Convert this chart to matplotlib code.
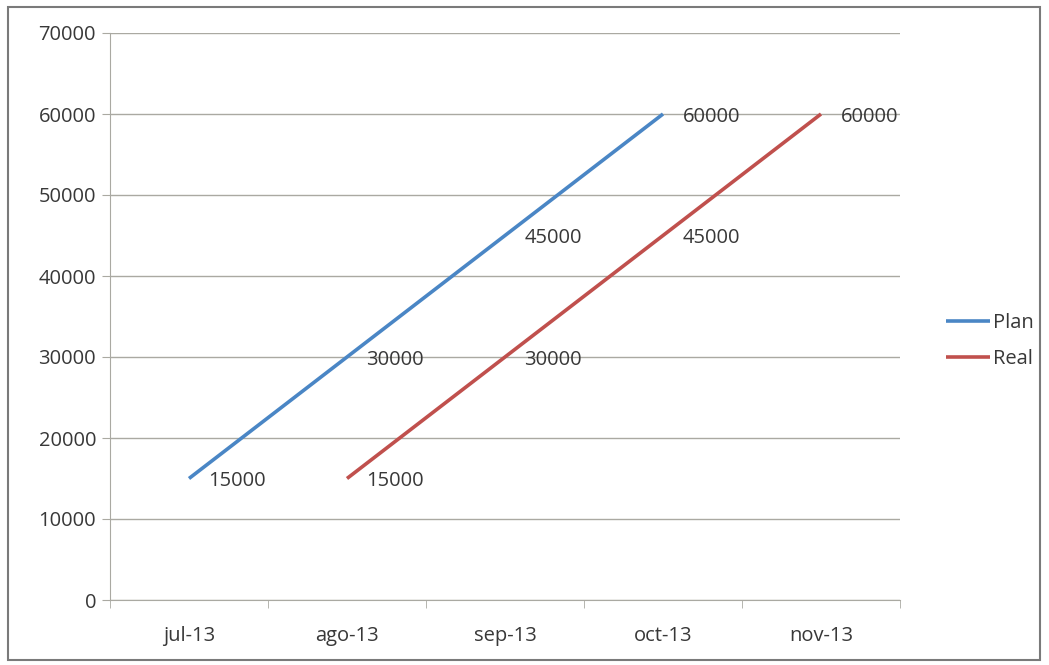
import matplotlib.pyplot as plt
from matplotlib.patches import Rectangle

# --- Data ---
months = ['jul-13', 'ago-13', 'sep-13', 'oct-13', 'nov-13']
plan_idx = [0, 1, 2, 3]
plan_vals = [15000, 30000, 45000, 60000]
real_idx = [1, 2, 3, 4]
real_vals = [15000, 30000, 45000, 60000]
y_ticks = [0, 10000, 20000, 30000, 40000, 50000, 60000, 70000]

TEXT = '#383838'
GRID = '#aaa9a2'
FS = 14.5

plt.rcParams['font.family'] = ['Open Sans', 'DejaVu Sans']

W, H = 1049, 665
fig = plt.figure(figsize=(W / 100, H / 100), dpi=100)
ax = fig.add_axes([110 / W, 1 - 600 / H, 790 / W, 567 / H])

# outer chart frame
fig.patches.append(Rectangle((8 / W, 5 / H), 1032 / W, 653 / H, transform=fig.transFigure,
                             fill=False, edgecolor='#7a7a7a', linewidth=1.5))

ax.plot(plan_idx, plan_vals, color='#4a86c5', linewidth=2.6, label='Plan',
        solid_capstyle='butt')
ax.plot(real_idx, real_vals, color='#c0504d', linewidth=2.6, label='Real',
        solid_capstyle='butt')

for x, y in zip(plan_idx, plan_vals):
    ax.annotate(f'{y}', (x, y), xytext=(14, -2), textcoords='offset points',
                ha='left', va='center', fontsize=FS, color=TEXT)
for x, y in zip(real_idx, real_vals):
    ax.annotate(f'{y}', (x, y), xytext=(14, -2), textcoords='offset points',
                ha='left', va='center', fontsize=FS, color=TEXT)

ax.set_xlim(-0.5, 4.5)
ax.set_ylim(0, 70000)
ax.set_yticks(y_ticks)
ax.set_yticklabels([str(v) for v in y_ticks])
ax.yaxis.grid(True, color=GRID, linewidth=1)
ax.set_axisbelow(True)

ax.set_xticks(range(len(months)))
ax.set_xticklabels(months)
ax.set_xticks([i - 0.5 for i in range(len(months) + 1)], minor=True)
ax.tick_params(axis='x', which='major', length=0, pad=19, labelsize=FS, labelcolor=TEXT)
ax.tick_params(axis='x', which='minor', length=6, color=GRID, direction='out')
ax.tick_params(axis='y', length=6, color=GRID, labelsize=FS, labelcolor=TEXT, pad=4)

for side in ['top', 'right']:
    ax.spines[side].set_visible(False)
for side in ['left', 'bottom']:
    ax.spines[side].set_color(GRID)

leg = fig.legend(loc='center left', bbox_to_anchor=(928 / W, 1 - 341 / H), frameon=False,
                 fontsize=FS, handlelength=2.2, handletextpad=0.15, labelspacing=0.75,
                 labelcolor=TEXT)

fig.savefig('out.png', dpi=100)
